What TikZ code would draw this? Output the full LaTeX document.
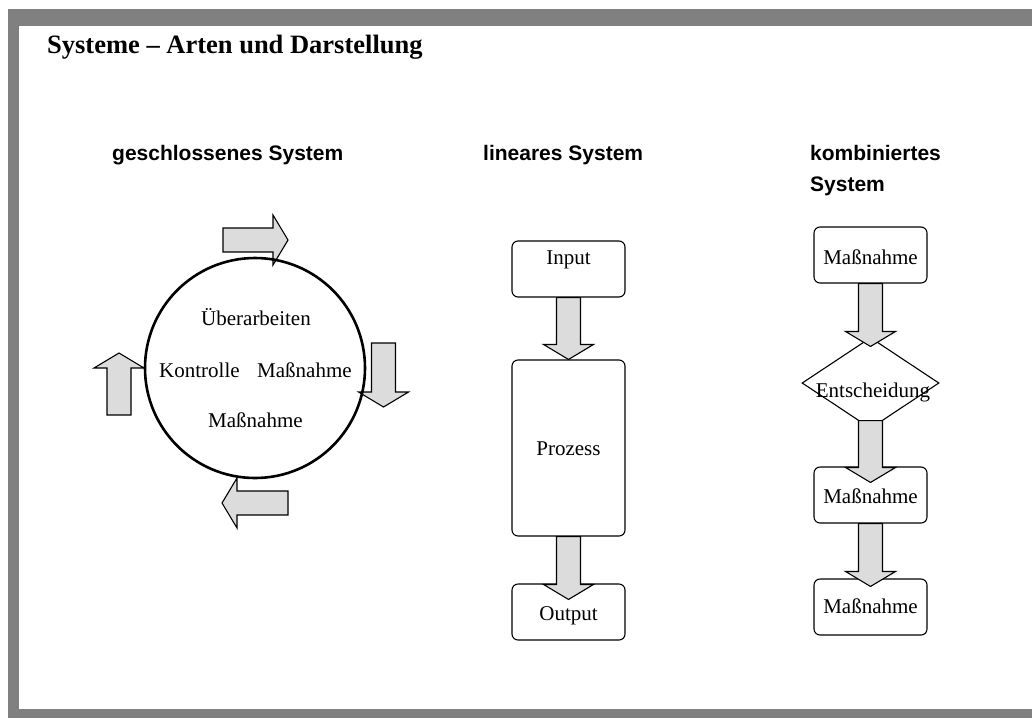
\documentclass[tikz,border=0pt]{standalone}
\usepackage{fontspec}
\setmainfont{Liberation Serif}
\newfontfamily\headfont{Liberation Sans}
\usetikzlibrary{calc,shapes.geometric}

\definecolor{framegray}{RGB}{128,128,128}
\definecolor{arrowfill}{RGB}{220,220,220}

% Broad block arrow from #1 (tail) to #2 (tip)
\newcommand\fatarrow[2]{%
  \path ($(#2)!15pt!(#1)$) coordinate (fa-base);
  \filldraw[fatarrowstyle]
    ($(#1)!12pt!90:(#2)$) -- ($(fa-base)!12pt!-90:(#1)$) --
    ($(fa-base)!25pt!-90:(#1)$) -- (#2) --
    ($(fa-base)!25pt!90:(#1)$) -- ($(fa-base)!12pt!90:(#1)$) --
    ($(#1)!12pt!-90:(#2)$) -- cycle;}

\begin{document}
\begin{tikzpicture}[x=1pt,y=-1pt,
  body/.style={font=\fontsize{21}{25}\selectfont, inner sep=0pt},
  heading/.style={font=\headfont\bfseries\fontsize{21}{30}\selectfont, inner sep=0pt},
  box/.style={draw, line width=1.1pt, rounded corners=6pt, minimum width=113pt,
    inner sep=0pt, font=\fontsize{21}{25}\selectfont},
  fatarrowstyle/.style={draw=black, fill=arrowfill, line width=1.1pt, line join=miter}]

\useasboundingbox (0,0) rectangle (1032,718);

% frame
\fill[framegray] (8,9) rectangle (1032,26);
\fill[framegray] (8,9) rectangle (19,718);
\fill[framegray] (8,709) rectangle (1032,718);

% title and headings
\node[anchor=base west, inner sep=0pt, font=\fontsize{26.5}{30}\selectfont\bfseries]
  (title) at (47,53) {Systeme \textendash{} Arten und Darstellung};
\node[heading, anchor=base west] (h1) at (112,160) {geschlossenes System};
\node[heading, anchor=base west] (h2) at (483,160) {lineares System};
\node[heading, anchor=base west] (h3a) at (810,160) {kombiniertes};
\node[heading, anchor=base west] (h3b) at (810,191) {System};

% closed system: cycle arrows
\coordinate (ct-s) at (223,240);   \coordinate (ct-t) at (288,240);
\coordinate (cr-s) at (383.5,343); \coordinate (cr-t) at (383.5,407);
\coordinate (cb-s) at (288,503);   \coordinate (cb-t) at (222,503);
\coordinate (cl-s) at (119,415);   \coordinate (cl-t) at (119,353);
\fatarrow{ct-s}{ct-t}
\fatarrow{cr-s}{cr-t}
\fatarrow{cb-s}{cb-t}
\fatarrow{cl-s}{cl-t}

\node[draw, circle, line width=2.6pt, minimum size=220pt, inner sep=0pt] (loop) at (255,368) {};
\node[body, anchor=base west] (ueb) at (201,325) {Überarbeiten};
\node[body, anchor=base west] (kon) at (159,377) {Kontrolle};
\node[body, anchor=base west] (mass-r) at (257,377) {Maßnahme};
\node[body, anchor=base west] (mass-b) at (208,427) {Maßnahme};

% linear system
\node[box, text height=23pt, text depth=33pt, anchor=base] (in) at (568.5,264) {Input};
\node[box, text height=95pt, text depth=81pt, anchor=base] (proc) at (568.5,455) {Prozess};
\node[box, text height=36pt, text depth=20pt, anchor=base] (out) at (568.5,620) {Output};
\coordinate (out-tip) at ($(out.north)+(0,16)$);
\fatarrow{in.south}{proc.north}
\fatarrow{proc.south}{out-tip}

% combined system
\node[box, text height=37pt, text depth=19pt, anchor=base] (k1) at (870.5,264) {Maßnahme};
\node[draw, diamond, line width=1.1pt, minimum width=137pt, minimum height=91pt, inner sep=0pt] (dec) at (870.5,383) {};
\node[body, anchor=base] (dec-text) at (873,397) {Entscheidung};
\node[box, text height=36pt, text depth=20pt, anchor=base] (k2) at (870.5,503) {Maßnahme};
\node[box, text height=34pt, text depth=22pt, anchor=base] (k3) at (870.5,613) {Maßnahme};
\coordinate (k1-tip) at ($(dec.north)+(0,9.5)$);
\coordinate (dec-out) at ($(dec.south)+(0,-8.5)$);
\coordinate (k2-tip) at ($(k2.north)+(0,16)$);
\coordinate (k3-tip) at ($(k3.north)+(0,8)$);
\fatarrow{k1.south}{k1-tip}
\fatarrow{dec-out}{k2-tip}
\fatarrow{k2.south}{k3-tip}

\end{tikzpicture}
\end{document}
